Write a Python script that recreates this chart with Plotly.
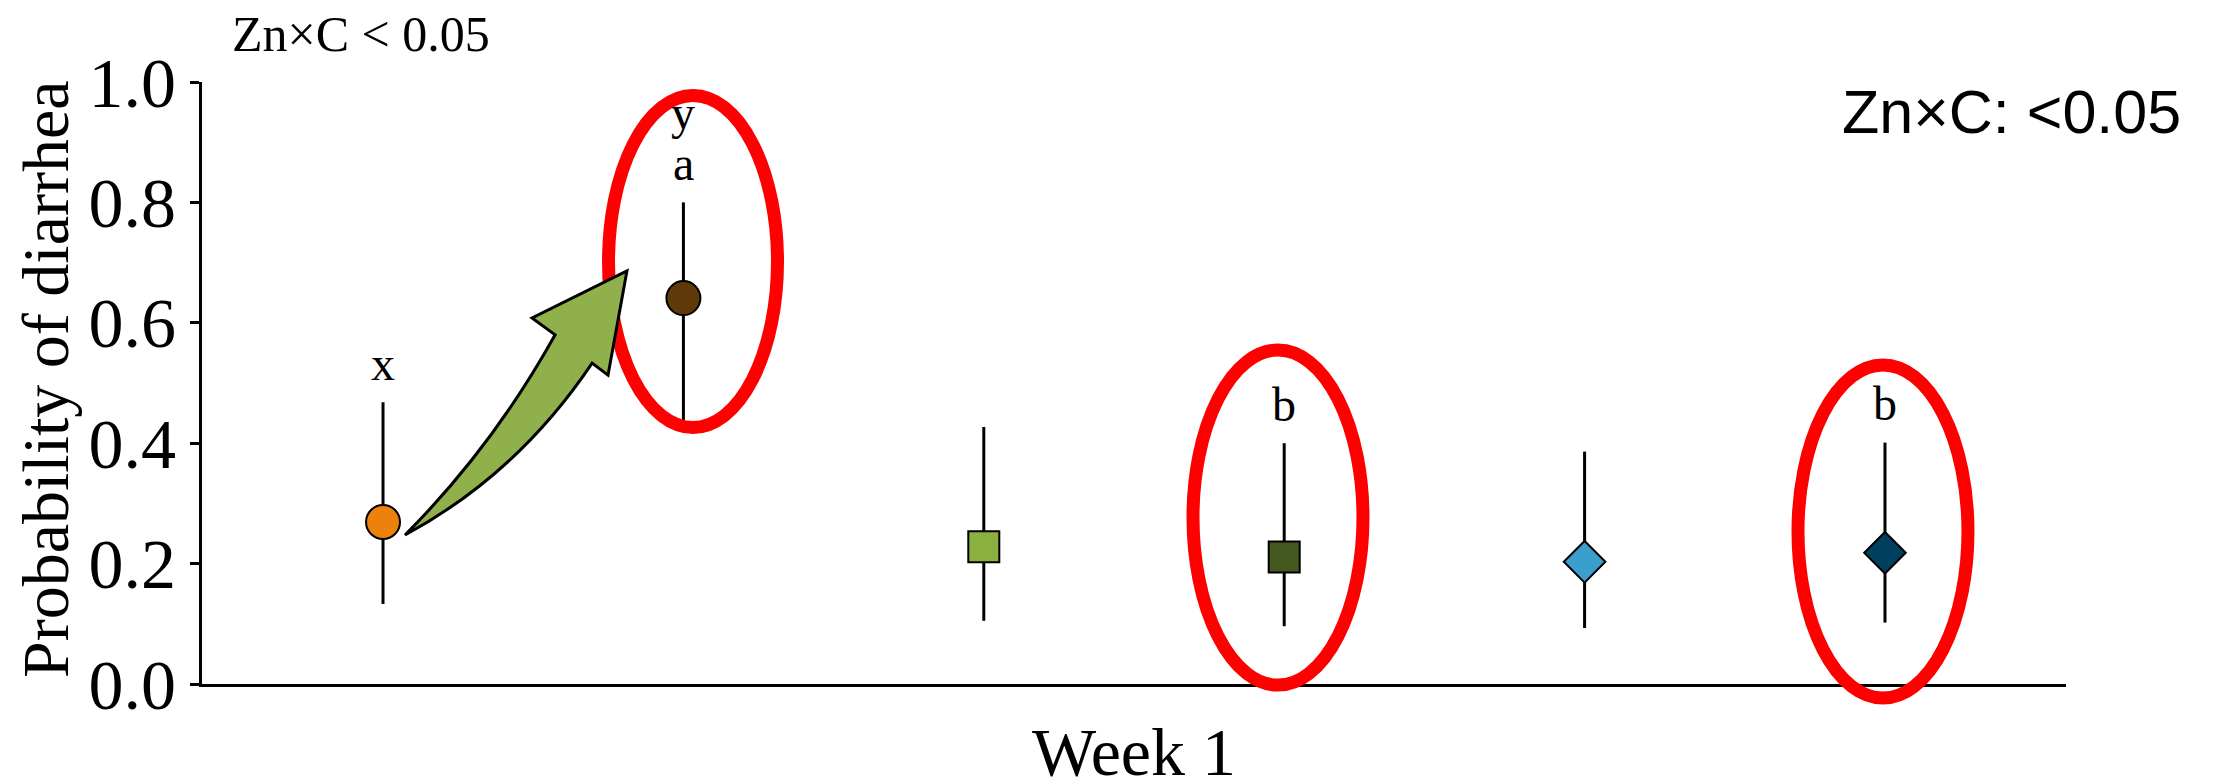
import plotly.graph_objects as go

# ---------------- data ----------------
groups = ["G1", "G2", "G3", "G4", "G5", "G6"]
xpos = [1, 2, 3, 4, 5, 6]
prob = [0.269, 0.641, 0.228, 0.211, 0.203, 0.218]
upper = [0.468, 0.800, 0.427, 0.400, 0.386, 0.401]
lower = [0.133, 0.438, 0.105, 0.096, 0.093, 0.102]
colors = ["#EC820B", "#5E3A0B", "#8BB03F", "#44591F", "#3A9FCB", "#003F5E"]
symbols = ["circle", "circle", "square", "square", "diamond", "diamond"]
sizes = [34, 34, 31, 31, 32, 32]
letters = [["x"], ["y", "a"], [], ["b"], [], ["b"]]   # top-to-bottom
week_tick = [3.5]
week_label = ["Week 1"]
yticks = [0.0, 0.2, 0.4, 0.6, 0.8, 1.0]

SERIF = "Liberation Serif"
XR = [3.5 - 3.1026, 3.5 + 3.1026]

def xp(x):
    return (x - XR[0]) / (XR[1] - XR[0])

fig = go.Figure()
for i in range(len(groups)):
    fig.add_trace(go.Scatter(
        x=[xpos[i]], y=[prob[i]], mode="markers", name=groups[i], showlegend=False,
        marker=dict(symbol=symbols[i], size=sizes[i], color=colors[i],
                    line=dict(color="black", width=2)),
        error_y=dict(type="data", symmetric=False,
                     array=[upper[i] - prob[i]], arrayminus=[prob[i] - lower[i]],
                     color="black", thickness=3, width=0),
        cliponaxis=False,
    ))

annotations = []
for i, labs in enumerate(letters):
    for k, t in enumerate(reversed(labs)):
        annotations.append(dict(x=xpos[i], y=upper[i] + 0.065 + 0.085 * k, xref="x", yref="y",
                                text=t, showarrow=False, xanchor="center", yanchor="middle",
                                font=dict(family=SERIF, size=48, color="black")))

annotations.append(dict(x=(361 - 202) / 1864, y=(684 - 34) / 602, xref="paper", yref="paper",
                        text="Zn×C < 0.05", showarrow=False, xanchor="center", yanchor="middle",
                        font=dict(family=SERIF, size=50, color="black")))
annotations.append(dict(x=(2011 - 202) / 1864, y=(684 - 112) / 602, xref="paper", yref="paper",
                        text="Zn×C: <0.05", showarrow=False, xanchor="center", yanchor="middle",
                        font=dict(family="Liberation Sans", size=61, color="black")))
annotations.append(dict(x=(46 - 202) / 1864, y=0.505, xref="paper", yref="paper",
                        text="Probability of diarrhea", textangle=-90, showarrow=False,
                        xanchor="center", yanchor="middle",
                        font=dict(family=SERIF, size=66, color="black")))

shapes = []
# red ellipses (data x -> paper)
ellipses = [(1.7507, 2.3133, 0.4261, 0.9776),
            (3.6964, 4.2623, -0.0017, 0.5548),
            (5.7104, 6.2763, -0.0233, 0.5299)]
for (x0, x1, y0, y1) in ellipses:
    shapes.append(dict(type="circle", xref="paper", yref="paper",
                       x0=xp(x0), x1=xp(x1), y0=y0, y1=y1,
                       line=dict(color="#FF0000", width=13), layer="above"))

# green curved arrow
pts = {
    "T": (1.0732, 0.2475), "C1": (1.3645, 0.393), "NL": (1.573, 0.580),
    "BL": (1.496, 0.608), "H": (1.812, 0.686), "BR": (1.749, 0.513),
    "NR": (1.696, 0.533), "C2": (1.449, 0.349),
}
def P(k):
    x, y = pts[k]
    return f"{xp(x):.5f},{y:.5f}"
path = (f"M {P('T')} Q {P('C1')} {P('NL')} L {P('BL')} L {P('H')} L {P('BR')} "
        f"L {P('NR')} Q {P('C2')} {P('T')} Z")
shapes.append(dict(type="path", xref="paper", yref="paper", path=path,
                   fillcolor="#8FB04A", line=dict(color="black", width=3), layer="above"))

fig.update_layout(
    width=2205, height=774,
    margin=dict(l=194, r=147, t=74, b=98, autoexpand=False),
    paper_bgcolor="white", plot_bgcolor="white",
    showlegend=False,
    annotations=annotations, shapes=shapes,
    xaxis=dict(range=XR, showgrid=False, zeroline=False, showline=True, linecolor="black",
               linewidth=3, tickvals=week_tick, ticktext=week_label, ticks="",
               automargin=False,
               tickfont=dict(family=SERIF, size=68, color="black"), ticklabelstandoff=6),
    yaxis=dict(range=[0, 1], showgrid=False, zeroline=False, showline=True, linecolor="black",
               linewidth=3, tickvals=yticks, tickformat=".1f", ticks="outside", ticklen=9,
               tickwidth=3, tickcolor="black", automargin=False,
               tickfont=dict(family=SERIF, size=70, color="black")),
)

fig.write_html("out.html")
